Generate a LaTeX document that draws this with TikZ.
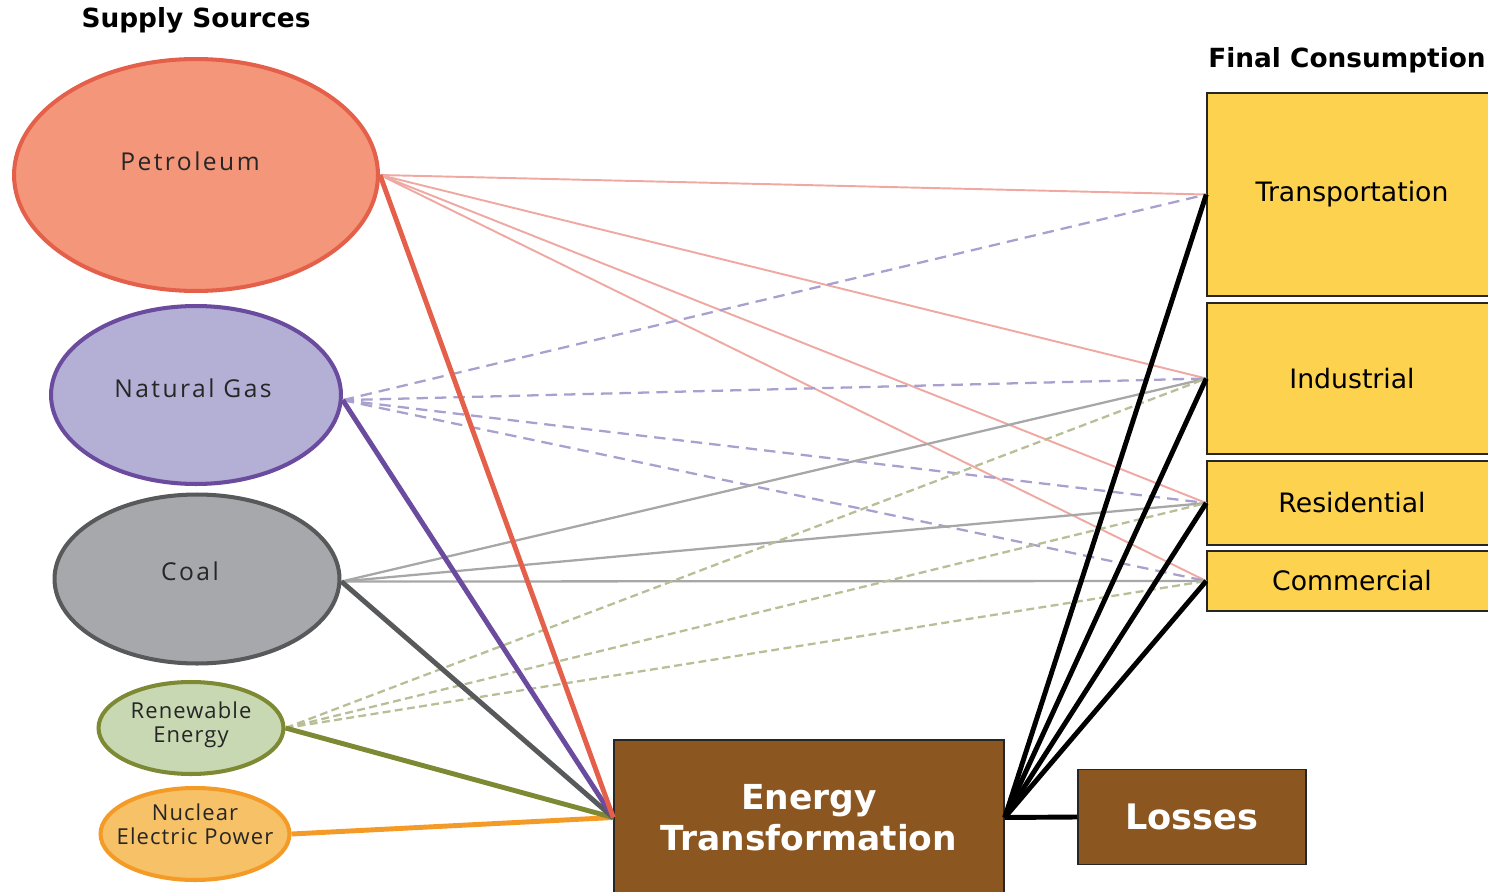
\documentclass[tikz,border=0pt]{standalone}
\usepackage{fontspec}
\setmainfont{DejaVu Sans}
\newfontfamily\ovalfont[LetterSpace=5]{Open Sans}
\newfontfamily\wideovalfont[LetterSpace=10]{Open Sans}
\usetikzlibrary{shapes.geometric}
\definecolor{petfill}{HTML}{F4967A}
\definecolor{petline}{HTML}{E4604A}
\definecolor{petthin}{HTML}{EFA9A2}
\definecolor{gasfill}{HTML}{B3AFD5}
\definecolor{gasline}{HTML}{6A4B9E}
\definecolor{gasthin}{HTML}{A9A0CF}
\definecolor{coalfill}{HTML}{A6A8AB}
\definecolor{coalline}{HTML}{58595B}
\definecolor{coalthin}{HTML}{A7A7A7}
\definecolor{renfill}{HTML}{C8D8B2}
\definecolor{renline}{HTML}{7E8934}
\definecolor{renthin}{HTML}{B8BE96}
\definecolor{nucfill}{HTML}{F6C167}
\definecolor{nucline}{HTML}{F39A27}
\definecolor{boxfill}{HTML}{FDD24F}
\definecolor{etfill}{HTML}{8B561F}
\tikzset{
	source/.style = {ellipse, inner sep=0pt, line width=2.3pt},
	sourcetext/.style = {align=center, inner sep=0pt, text=black!85, font=\ovalfont\fontsize{12.5}{13.6}\selectfont},
	bigsourcetext/.style = {sourcetext, font=\wideovalfont\fontsize{14}{15}\selectfont},
	sector/.style = {rectangle, inner sep=0pt, fill=boxfill, draw=black!85, line width=0.9pt, font=\fontsize{15.2}{18}\selectfont},
	hub/.style = {rectangle, inner sep=0pt, fill=etfill, draw=black!85, line width=0.9pt, text=white, align=center, font=\bfseries\fontsize{19.6}{23.4}\selectfont},
	heading/.style = {inner sep=0pt, font=\bfseries\fontsize{15}{17}\selectfont},
	direct/.style = {line width=1.1pt},
	piped/.style = {line width=1.3pt, dash pattern=on 6.5pt off 4pt},
	greendash/.style = {line width=1.3pt, dash pattern=on 4.5pt off 2.5pt},
	feed/.style = {line width=2.8pt},
	deliver/.style = {line width=2.8pt, black}
}

\begin{document}
\begin{tikzpicture}[x=0.02cm, y=-0.02cm]
\useasboundingbox (0,0) rectangle (1488,892);
\clip (0,0) rectangle (1488,892);

% headings
\node [heading] (supplyhead) at (196,20) {Supply Sources};
\node [heading] (finalhead) at (1347,60) {Final Consumption};

% supply sources
\node [source, fill=petfill, draw=petline, minimum width=7.28cm, minimum height=4.64cm,
	label={[bigsourcetext, xshift=-0.12cm, yshift=0.28cm]center:Petroleum}] (pet) at (196,175) {};
\node [source, fill=gasfill, draw=gasline, minimum width=5.8cm, minimum height=3.56cm,
	label={[bigsourcetext, xshift=-0.06cm, yshift=0.14cm]center:Natural Gas}] (gas) at (196,395) {};
\node [source, fill=coalfill, draw=coalline, minimum width=5.7cm, minimum height=3.38cm,
	label={[bigsourcetext, xshift=-0.14cm, yshift=0.16cm]center:Coal}] (coal) at (197,579) {};
\node [source, fill=renfill, draw=renline, minimum width=3.7cm, minimum height=1.84cm,
	label={[sourcetext, yshift=0.06cm]center:Renewable\\Energy}] (ren) at (191,728) {};
\node [source, fill=nucfill, draw=nucline, minimum width=3.78cm, minimum height=1.84cm,
	label={[sourcetext, yshift=0.2cm]center:Nuclear\\Electric Power}] (nuc) at (195,834) {};

% final consumption
\node [sector, minimum width=5.8cm, minimum height=4.06cm] (trans) at (1352,194.5) {Transportation};
\node [sector, minimum width=5.8cm, minimum height=3.02cm] (ind) at (1352,378.5) {Industrial};
\node [sector, minimum width=5.8cm, minimum height=1.68cm] (res) at (1352,503) {Residential};
\node [sector, minimum width=5.8cm, minimum height=1.2cm] (com) at (1352,581) {Commercial};

% transformation
\node [hub, minimum width=7.8cm, minimum height=3.1cm] (et) at (809,817.5) {Energy\\Transformation};
\node [hub, minimum width=4.56cm, minimum height=1.9cm, font=\bfseries\fontsize{20}{24}\selectfont] (loss) at (1192,817) {Losses};

% direct use
\foreach \s in {trans,ind,res,com}
	\draw [direct, petthin] (pet.east) -- (\s.west);
\foreach \s in {trans,ind,res,com}
	\draw [piped, gasthin] (gas.-2) -- (\s.west);
\foreach \s in {ind,res,com}
	\draw [direct, coalthin, line width=1.3pt] (coal.-1) -- (\s.west);
\foreach \s in {ind,res,com}
	\draw [greendash, renthin] (ren.east) -- (\s.west);

% into transformation
\draw [feed, nucline] (nuc.east) -- (et.west);
\draw [feed, renline] (ren.east) -- (et.west);
\draw [feed, coalline] (coal.-1) -- (et.west);
\draw [feed, gasline] (gas.-2) -- (et.west);
\draw [feed, petline] (pet.east) -- (et.west);

% out of transformation
\foreach \s in {trans,ind,res,com}
	\draw [deliver] (et.east) -- (\s.west);
\draw [deliver] (et.east) -- (loss.west);
\end{tikzpicture}
\end{document}
